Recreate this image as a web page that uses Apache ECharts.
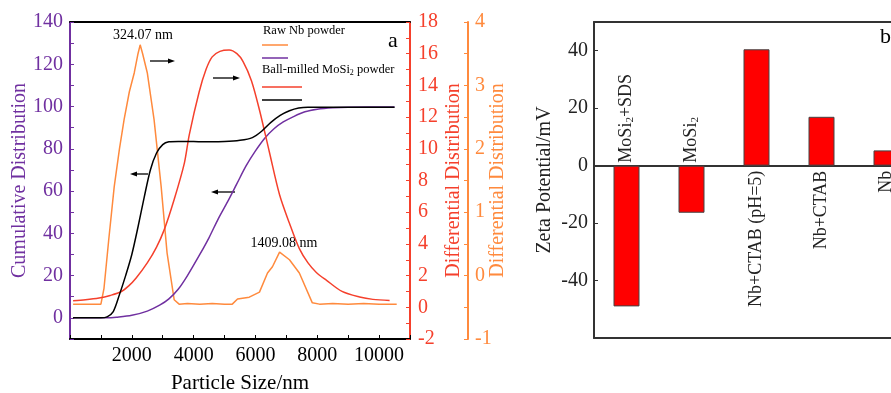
<!DOCTYPE html>
<html><head><meta charset="utf-8">
<script src="https://cdn.jsdelivr.net/npm/echarts@6/dist/echarts.min.js"></script>
<style>html,body{margin:0;padding:0;background:#fff}#c{width:891px;height:393px}</style>
</head><body><div id="c"></div>
<script>
// ---- Panel a: particle size distributions ----
const nbDiffX = [100, 500, 1000, 1100, 1250, 1430, 1600, 1750, 1920, 2080, 2200, 2270, 2350, 2500, 2720, 2950, 3140, 3370, 3530, 3800, 4200, 4600, 5000, 5250, 5420, 5800, 6130, 6390, 6550, 6780, 7100, 7420, 7840, 8070, 8500, 9000, 9500, 10000, 10570];
const nbDiffY = [-0.45, -0.45, -0.45, -0.2, 0.55, 1.4, 2.0, 2.46, 2.9, 3.2, 3.5, 3.64, 3.5, 3.2, 2.46, 1.4, 0.36, -0.38, -0.45, -0.44, -0.45, -0.44, -0.45, -0.45, -0.37, -0.34, -0.26, 0.04, 0.14, 0.37, 0.25, 0.04, -0.43, -0.45, -0.44, -0.45, -0.44, -0.45, -0.45];

const nbCumX = [100, 1200, 1500, 2000, 2500, 2900, 3200, 3500, 3800, 4200, 4500, 4800, 5100, 5400, 5700, 6000, 6300, 6600, 6900, 7200, 7600, 8000, 8500, 9000, 10500];
const nbCumY = [0, 0, 0.3, 1.2, 3.2, 6, 9, 13.5, 20, 30, 38, 47, 55, 63.5, 72, 79, 85, 89.5, 92.7, 95, 97.5, 98.7, 99.4, 99.7, 99.8];

const moDiffX = [100, 500, 940, 1300, 1650, 1900, 2140, 2500, 2800, 3050, 3370, 3700, 3860, 4180, 4400, 4600, 4850, 5150, 5400, 5600, 5870, 6130, 6450, 6780, 7100, 7420, 7700, 7970, 8300, 8800, 9370, 9800, 10340];
const moDiffY = [0.42, 0.48, 0.59, 0.75, 0.98, 1.35, 1.85, 2.8, 3.8, 4.9, 6.8, 9.1, 10.9, 13.6, 15.0, 15.8, 16.15, 16.23, 16.0, 15.5, 14.3, 12.45, 9.8, 7.1, 5.3, 3.7, 2.8, 2.2, 1.7, 1.0, 0.65, 0.5, 0.43];

const moCumX = [100, 1000, 1200, 1400, 1600, 1800, 2000, 2200, 2400, 2600, 2800, 3000, 3200, 3500, 4000, 4500, 5000, 5500, 5900, 6200, 6500, 6800, 7100, 7400, 7700, 8000, 9000, 10500];
const moCumY = [0, 0, 0.5, 3, 11, 20, 30, 43, 57, 70, 78, 82, 83.3, 83.5, 83.4, 83.3, 83.4, 84, 85.3, 88.3, 92.5, 95.8, 98, 99.3, 99.7, 99.7, 99.7, 99.7];

// ---- Panel b: zeta potential ----
const zetaCats = ['MoSi2+SDS', 'MoSi2', 'Nb+CTAB (pH=5)', 'Nb+CTAB', 'Nb'];
const zetaVals = [-49, -16.4, 40.5, 17, 5.3];

const FONT = 'Liberation Serif';
const PURPLE = '#7030a0', RED = '#f5402c', ORANGE = '#ff8a3d';
const zip = (xs, ys) => xs.map((x, i) => [x, ys[i]]);
const sub = s => s.replace(/MoSi2/g, 'MoSi{s|2}');

const chart = echarts.init(document.getElementById('c'));

const labelCommon = {
  show: true, rotate: 90, verticalAlign: 'middle',
  fontFamily: FONT, fontSize: 18, color: '#222',
  formatter: p => sub(p.name),
  rich: { s: { fontFamily: FONT, fontSize: 11, color: '#222', verticalAlign: 'bottom' } }
};
const barItems = zetaVals.map(v => ({
  value: v,
  label: Object.assign({}, labelCommon, v < 0
    ? { position: 'top', align: 'left', distance: 3 }
    : { position: 'bottom', align: 'right', distance: 5 })
}));

function arrow(x1, x2, y, headLeft) {
  const hx = headLeft ? x1 : x2, d = headLeft ? 7 : -7;
  return [
    { type: 'line', shape: { x1: headLeft ? x1 + 5 : x1, y1: y, x2: headLeft ? x2 : x2 - 5, y2: y }, style: { stroke: '#000', lineWidth: 1.3 } },
    { type: 'polygon', shape: { points: [[hx, y], [hx + d, y - 2.6], [hx + d, y + 2.6]] }, style: { fill: '#000' } }
  ];
}
function txt(x, y, text, size, align, extra) {
  return { type: 'text', x: x, y: y, style: Object.assign({
    text: text, fontFamily: FONT, fontSize: size, fill: '#000',
    align: align, textAlign: align, verticalAlign: 'middle', textVerticalAlign: 'middle'
  }, extra || {}) };
}
function seg(x1, x2, y, color) {
  return { type: 'line', shape: { x1: x1, y1: y, x2: x2, y2: y }, style: { stroke: color, lineWidth: 1.5 } };
}

const AW = 2;
const axisNameStyle = (c) => ({ fontFamily: FONT, fontSize: 20, color: c });
const curve = (name, yIdx, xs, ys, color, smooth) => ({
  name: name, type: 'line', xAxisIndex: 0, yAxisIndex: yIdx, data: zip(xs, ys),
  showSymbol: false, symbol: 'none', smooth: smooth ? 0.3 : false,
  lineStyle: { color: color, width: 1.5 }, itemStyle: { color: color }
});

chart.setOption({
  animation: false,
  backgroundColor: '#fff',
  grid: [
    { left: 70, top: 22, width: 340, height: 317, outerBoundsMode: 'none', containLabel: false },
    { left: 594, top: 22, width: 325, height: 316, outerBoundsMode: 'none', containLabel: false }
  ],
  xAxis: [
    { gridIndex: 0, type: 'value', min: 0, max: 11000, interval: 1000,
      axisLine: { onZero: false, lineStyle: { color: '#000', width: AW } },
      axisTick: { inside: true, length: 4, lineStyle: { color: '#000' } },
      axisLabel: { formatter: v => (v > 0 && v % 2000 === 0) ? String(v) : '', fontFamily: FONT, fontSize: 20, color: '#000', margin: 7 },
      splitLine: { show: false },
      name: 'Particle Size/nm', nameLocation: 'middle', nameGap: 34, nameMoveOverlap: false,
      nameTextStyle: { fontFamily: FONT, fontSize: 21, color: '#000' } },
    { gridIndex: 0, type: 'value', position: 'top', min: 0, max: 11000,
      axisLine: { onZero: false, lineStyle: { color: '#000', width: AW } },
      axisTick: { show: false }, axisLabel: { show: false }, splitLine: { show: false } },
    { gridIndex: 1, type: 'category', data: zetaCats,
      axisLine: { onZero: true, lineStyle: { color: '#333', width: AW } },
      axisTick: { show: false }, axisLabel: { show: false }, splitLine: { show: false } },
    { gridIndex: 1, type: 'category', data: zetaCats, position: 'bottom',
      axisLine: { onZero: false, lineStyle: { color: '#333', width: AW } },
      axisTick: { show: false }, axisLabel: { show: false }, splitLine: { show: false } },
    { gridIndex: 1, type: 'category', data: zetaCats, position: 'top',
      axisLine: { onZero: false, lineStyle: { color: '#333', width: AW } },
      axisTick: { show: false }, axisLabel: { show: false }, splitLine: { show: false } }
  ],
  yAxis: [
    { gridIndex: 0, type: 'value', position: 'left', min: -10, max: 140, interval: 10,
      axisLine: { show: true, onZero: false, lineStyle: { color: PURPLE, width: AW } },
      axisTick: { show: true, inside: true, length: 4, lineStyle: { color: PURPLE } },
      axisLabel: { formatter: v => (v >= 0 && v % 20 === 0) ? String(v) : '', fontFamily: FONT, fontSize: 20, color: PURPLE, margin: 7 },
      splitLine: { show: false },
      name: 'Cumulative Distribution', nameLocation: 'middle', nameGap: 40, nameMoveOverlap: false,
      nameTextStyle: axisNameStyle(PURPLE) },
    { gridIndex: 0, type: 'value', position: 'right', min: -2, max: 18, interval: 1,
      axisLine: { show: true, onZero: false, lineStyle: { color: RED, width: AW } },
      axisTick: { show: true, inside: true, length: 4, lineStyle: { color: RED } },
      axisLabel: { formatter: v => (v % 2 === 0) ? String(v) : '', fontFamily: FONT, fontSize: 20, color: RED, margin: 8 },
      splitLine: { show: false },
      name: 'Differential Distribution', nameLocation: 'middle', nameGap: 34, nameMoveOverlap: false,
      nameTextStyle: axisNameStyle(RED) },
    { gridIndex: 0, type: 'value', position: 'right', offset: 58, min: -1, max: 4, interval: 0.5,
      axisLine: { show: true, onZero: false, lineStyle: { color: ORANGE, width: AW } },
      axisTick: { show: true, inside: true, length: 4, lineStyle: { color: ORANGE } },
      axisLabel: { formatter: v => Number.isInteger(v) ? String(v) : '', fontFamily: FONT, fontSize: 20, color: ORANGE, margin: 7 },
      splitLine: { show: false },
      name: 'Differential Distribution', nameLocation: 'middle', nameGap: 20, nameMoveOverlap: false,
      nameTextStyle: axisNameStyle(ORANGE) },
    { gridIndex: 1, type: 'value', min: -60, max: 50, interval: 20,
      axisLine: { show: true, onZero: false, lineStyle: { color: '#333', width: AW } },
      axisTick: { show: true, inside: true, length: 4, lineStyle: { color: '#333' } },
      axisLabel: { formatter: v => (v === -60 || v === 50) ? '' : String(v), fontFamily: FONT, fontSize: 20, color: '#222', margin: 6 },
      splitLine: { show: false },
      name: 'Zeta Potential/mV', nameLocation: 'middle', nameGap: 39, nameMoveOverlap: false,
      nameTextStyle: axisNameStyle('#222') }
  ],
  series: [
    curve('Raw Nb differential', 2, nbDiffX, nbDiffY, ORANGE, false),
    curve('Raw Nb cumulative', 0, nbCumX, nbCumY, PURPLE, true),
    curve('MoSi2 differential', 1, moDiffX, moDiffY, RED, true),
    curve('MoSi2 cumulative', 0, moCumX, moCumY, '#000', true),
    { name: 'Zeta potential', type: 'bar', xAxisIndex: 2, yAxisIndex: 3, data: barItems, barWidth: 26,
      itemStyle: { color: '#ff0000', borderColor: '#444', borderWidth: 1 } }
  ],
  graphic: [
    txt(143, 35, '324.07 nm', 14, 'center'),
    txt(284, 243, '1409.08 nm', 14, 'center'),
    txt(393, 41, 'a', 22, 'center'),
    txt(263, 31, 'Raw Nb powder', 12.5, 'left'),
    seg(262, 288, 45, ORANGE),
    seg(262, 288, 58, PURPLE),
    txt(262, 70, 'Ball-milled MoSi{s|2} powder', 12.5, 'left', { rich: { s: { fontFamily: FONT, fontSize: 8, fill: '#000', verticalAlign: 'bottom' } } }),
    seg(262, 302, 87, RED),
    seg(262, 302, 100, '#000'),
    ...arrow(150, 175, 61, false),
    ...arrow(213, 240, 78, false),
    ...arrow(130, 148, 174, true),
    ...arrow(211, 235, 192, true),
    txt(880, 37, 'b', 22, 'left')
  ]
});
</script>
</body></html>
